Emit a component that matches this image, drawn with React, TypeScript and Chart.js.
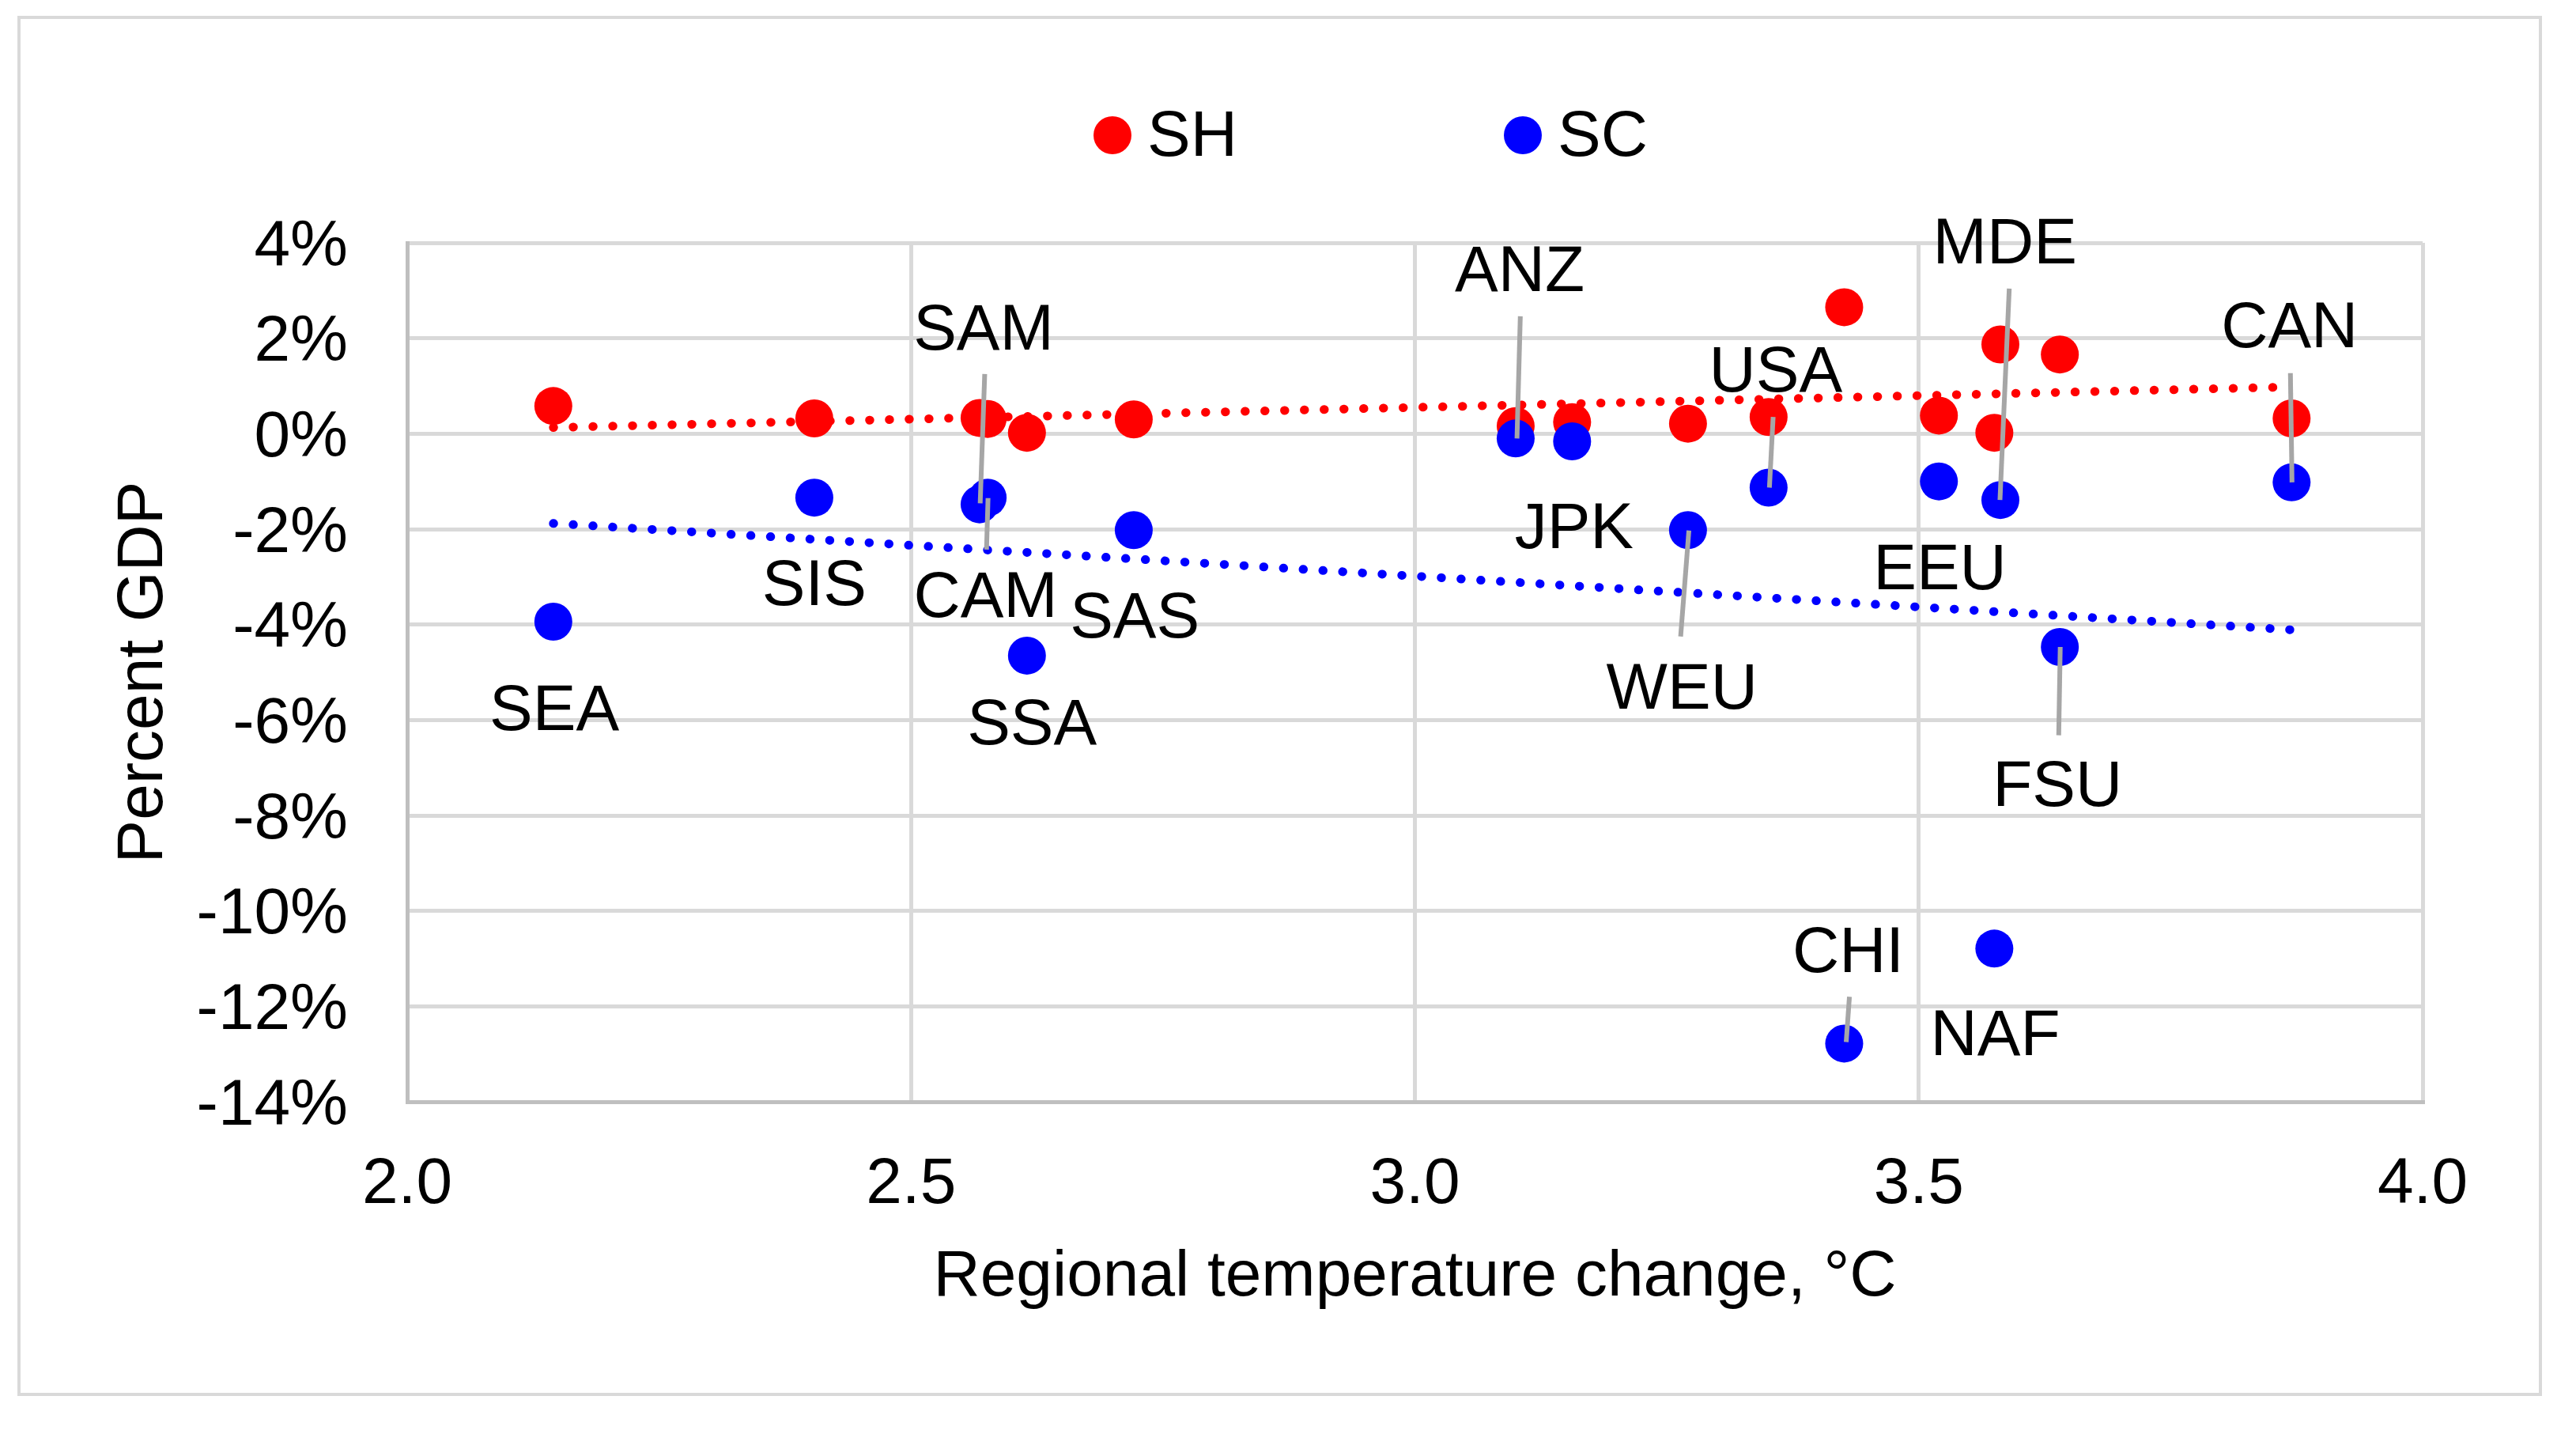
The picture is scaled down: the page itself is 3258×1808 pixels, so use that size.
import { useEffect, useRef } from 'react'
import Chart from 'chart.js/auto'

const FONT = '"Liberation Sans", Arial, sans-serif'
// canvas 'middle' sits a little above the cap centre with this font
const TEXT_SHIFT = 6

// regions, in the order their labels are listed below
const regions = ['SEA', 'SIS', 'SAM', 'CAM', 'SSA', 'SAS', 'ANZ', 'JPK', 'WEU', 'USA', 'CHI', 'EEU', 'MDE', 'NAF', 'FSU', 'CAN']
const tempChange = [2.145, 2.404, 2.568, 2.576, 2.615, 2.721, 3.1, 3.156, 3.271, 3.351, 3.426, 3.52, 3.581, 3.575, 3.64, 3.87]
const shImpact = [0.58, 0.32, 0.33, 0.31, 0.02, 0.3, 0.16, 0.24, 0.21, 0.35, 2.65, 0.38, 1.87, 0.02, 1.66, 0.32]
const scImpact = [-3.94, -1.34, -1.48, -1.34, -4.65, -2.02, -0.1, -0.16, -2.02, -1.13, -12.78, -1.0, -1.39, -10.79, -4.47, -1.02]

// linear trendline end points as drawn
const trendX = [2.145, 3.87]
const shTrend = [0.13, 0.98]
const scTrend = [-1.88, -4.11]

const xTicks = [2.0, 2.5, 3.0, 3.5, 4.0]
const yTicks = [-14, -12, -10, -8, -6, -4, -2, 0, 2, 4]

// label placement in data units (centre of text)
const labelPos: [number, number][] = [
  [2.146, -5.74], [2.404, -3.12], [2.572, 2.24], [2.574, -3.36],
  [2.62, -6.03], [2.722, -3.8], [3.104, 3.47], [3.158, -1.93],
  [3.265, -5.28], [3.358, 1.365], [3.43, -10.8], [3.521, -2.78],
  [3.5855, 4.04], [3.576, -12.55], [3.6377, -7.32], [3.868, 2.29],
]
// leader lines x1, y1, x2, y2 in data units
const leaders: ([number, number, number, number] | null)[] = [
  null, null,
  [2.5731, 1.25, 2.5686, -1.46],
  [2.5764, -1.35, 2.5749, -2.43],
  null, null,
  [3.1046, 2.46, 3.1013, -0.1],
  null,
  [3.2719, -2.03, 3.2637, -4.25],
  [3.3555, 0.35, 3.3518, -1.13],
  [3.4312, -11.8, 3.428, -12.75],
  null,
  [3.5898, 3.04, 3.5806, -1.39],
  null,
  [3.6404, -4.47, 3.6389, -6.32],
  [3.8688, 1.27, 3.8704, -1.02],
]

const framePlugin = {
  id: 'frame',
  beforeDraw(chart: Chart) {
    const { ctx, width, height } = chart
    ctx.save()
    ctx.fillStyle = '#ffffff'
    ctx.fillRect(0, 0, width, height)
    ctx.strokeStyle = '#d9d9d9'
    ctx.lineWidth = 4
    ctx.strokeRect(24, 22, 3189, 1741)
    ctx.restore()
  },
}

const legendPlugin = {
  id: 'topLegend',
  afterDraw(chart: Chart) {
    const { ctx } = chart
    const items = [
      { ds: chart.data.datasets[0], cx: 1407 },
      { ds: chart.data.datasets[1], cx: 1926 },
    ]
    ctx.save()
    ctx.font = `82px ${FONT}`
    ctx.textAlign = 'left'
    ctx.textBaseline = 'middle'
    items.forEach(({ ds, cx }) => {
      ctx.fillStyle = ds.backgroundColor as string
      ctx.beginPath()
      ctx.arc(cx, 171, 24, 0, Math.PI * 2)
      ctx.fill()
      ctx.fillStyle = '#000000'
      ctx.fillText(ds.label ?? '', cx + 44, 168 + TEXT_SHIFT)
    })
    ctx.restore()
  },
}

const labelPlugin = {
  id: 'regionLabels',
  afterDatasetsDraw(chart: Chart) {
    const { ctx } = chart
    const x = chart.scales.x
    const y = chart.scales.y
    ctx.save()
    ctx.strokeStyle = '#a6a6a6'
    ctx.lineWidth = 6
    leaders.forEach((l) => {
      if (!l) return
      ctx.beginPath()
      ctx.moveTo(x.getPixelForValue(l[0]), y.getPixelForValue(l[1]))
      ctx.lineTo(x.getPixelForValue(l[2]), y.getPixelForValue(l[3]))
      ctx.stroke()
    })
    ctx.font = `82px ${FONT}`
    ctx.fillStyle = '#000000'
    ctx.textAlign = 'center'
    ctx.textBaseline = 'middle'
    regions.forEach((name, i) => {
      const [lx, ly] = labelPos[i]
      ctx.fillText(name, x.getPixelForValue(lx), y.getPixelForValue(ly) + TEXT_SHIFT)
    })
    ctx.restore()
  },
}

export default function App() {
  const chartRef = useRef<HTMLCanvasElement>(null)

  useEffect(() => {
    document.body.style.margin = '0'
    if (!chartRef.current) return
    const ctx = chartRef.current.getContext('2d')
    if (!ctx) return

    const tickFont = { family: FONT, size: 82 }

    const chart = new Chart(ctx, {
      type: 'scatter',
      data: {
        datasets: [
          {
            label: 'SH',
            data: tempChange.map((t, i) => ({ x: t, y: shImpact[i] })),
            backgroundColor: '#ff0000',
            pointRadius: 24,
            pointBorderWidth: 0,
            order: 1,
          },
          {
            label: 'SC',
            data: tempChange.map((t, i) => ({ x: t, y: scImpact[i] })),
            backgroundColor: '#0000ff',
            pointRadius: 24,
            pointBorderWidth: 0,
            order: 0,
          },
          {
            label: 'SH trend',
            data: trendX.map((t, i) => ({ x: t, y: shTrend[i] })),
            showLine: true,
            borderColor: '#ff0000',
            borderWidth: 11,
            borderDash: [0.5, 24.5],
            borderCapStyle: 'round',
            pointRadius: 0,
            order: 2,
          },
          {
            label: 'SC trend',
            data: trendX.map((t, i) => ({ x: t, y: scTrend[i] })),
            showLine: true,
            borderColor: '#0000ff',
            borderWidth: 11,
            borderDash: [0.5, 24.5],
            borderCapStyle: 'round',
            pointRadius: 0,
            order: 3,
          },
        ],
      },
      options: {
        animation: false,
        responsive: true,
        maintainAspectRatio: false,
        devicePixelRatio: 1,
        layout: { padding: { left: 0, top: 307, right: 194, bottom: 0 }, autoPadding: false },
        plugins: {
          legend: { display: false },
          tooltip: { enabled: false },
        },
        scales: {
          x: {
            type: 'linear',
            min: 2,
            max: 4,
            afterFit: (s) => { s.height = 415 },
            afterBuildTicks: (s) => { s.ticks = xTicks.map((value) => ({ value })) },
            grid: { color: '#d9d9d9', lineWidth: 5, drawTicks: false },
            border: { color: '#bfbfbf', width: 5 },
            ticks: {
              color: '#000000',
              font: tickFont,
              padding: 50 + TEXT_SHIFT,
              maxRotation: 0,
              callback: (v) => Number(v).toFixed(1),
            },
            title: {
              display: true,
              text: 'Regional temperature change, °C',
              color: '#000000',
              font: tickFont,
              padding: { top: 0, bottom: 149 - TEXT_SHIFT },
            },
          },
          y: {
            type: 'linear',
            min: -14,
            max: 4,
            afterFit: (s) => { s.width = 515 },
            afterBuildTicks: (s) => { s.ticks = yTicks.map((value) => ({ value })) },
            grid: { color: '#d9d9d9', lineWidth: 5, drawTicks: false },
            border: { color: '#bfbfbf', width: 5 },
            ticks: {
              color: '#000000',
              font: tickFont,
              padding: 75,
              labelOffset: TEXT_SHIFT,
              callback: (v) => v + '%',
            },
            title: {
              display: true,
              text: 'Percent GDP',
              color: '#000000',
              font: tickFont,
              padding: { top: 127 + TEXT_SHIFT, bottom: 0 },
            },
          },
        },
      },
      plugins: [framePlugin, legendPlugin, labelPlugin],
    })

    return () => chart.destroy()
  }, [])

  return (
    <div style={{ position: 'relative', width: '3258px', height: '1808px' }}>
      <canvas ref={chartRef} />
    </div>
  )
}
